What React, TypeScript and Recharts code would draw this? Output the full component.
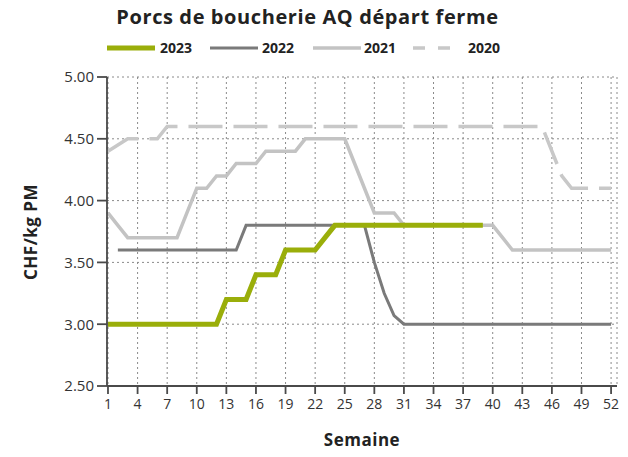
import { LineChart, Line, XAxis, YAxis, CartesianGrid } from 'recharts'

if (typeof document !== 'undefined') document.body.style.margin = '0'

const WEEKS = [
  1, 2, 3, 4, 5, 6, 7, 8, 9, 10, 11, 12, 13, 14, 15, 16, 17, 18, 19, 20, 21, 22, 23, 24, 25, 26,
  27, 28, 29, 30, 31, 32, 33, 34, 35, 36, 37, 38, 39, 40, 41, 42, 43, 44, 45, 46, 47, 48, 49, 50, 51, 52,
]

const Y2023 = [
  3.0, 3.0, 3.0, 3.0, 3.0, 3.0, 3.0, 3.0, 3.0, 3.0, 3.0, 3.0, 3.2, 3.2, 3.2, 3.4, 3.4, 3.4, 3.6, 3.6, 3.6, 3.6, 3.7, 3.8, 3.8, 3.8,
  3.8, 3.8, 3.8, 3.8, 3.8, 3.8, 3.8, 3.8, 3.8, 3.8, 3.8, 3.8, 3.8, null, null, null, null, null, null, null, null, null, null, null, null, null,
]

const Y2022 = [
  null, 3.6, 3.6, 3.6, 3.6, 3.6, 3.6, 3.6, 3.6, 3.6, 3.6, 3.6, 3.6, 3.6, 3.8, 3.8, 3.8, 3.8, 3.8, 3.8, 3.8, 3.8, 3.8, 3.8, 3.8, 3.8,
  3.8, 3.5, 3.25, 3.07, 3.0, 3.0, 3.0, 3.0, 3.0, 3.0, 3.0, 3.0, 3.0, 3.0, 3.0, 3.0, 3.0, 3.0, 3.0, 3.0, 3.0, 3.0, 3.0, 3.0, 3.0, 3.0,
]

const Y2021 = [
  3.9, 3.8, 3.7, 3.7, 3.7, 3.7, 3.7, 3.7, 3.9, 4.1, 4.1, 4.2, 4.2, 4.3, 4.3, 4.3, 4.4, 4.4, 4.4, 4.4, 4.5, 4.5, 4.5, 4.5, 4.5, 4.3,
  4.1, 3.9, 3.9, 3.9, 3.8, 3.8, 3.8, 3.8, 3.8, 3.8, 3.8, 3.8, 3.8, 3.8, 3.7, 3.6, 3.6, 3.6, 3.6, 3.6, 3.6, 3.6, 3.6, 3.6, 3.6, 3.6,
]

const Y2020 = [
  4.4, 4.45, 4.5, 4.5, 4.5, 4.5, 4.6, 4.6, 4.6, 4.6, 4.6, 4.6, 4.6, 4.6, 4.6, 4.6, 4.6, 4.6, 4.6, 4.6, 4.6, 4.6, 4.6, 4.6, 4.6, 4.6,
  4.6, 4.6, 4.6, 4.6, 4.6, 4.6, 4.6, 4.6, 4.6, 4.6, 4.6, 4.6, 4.6, 4.6, 4.6, 4.6, 4.6, 4.6, 4.6, 4.4, 4.2, 4.1, 4.1, 4.1, 4.1, 4.1,
]

const X_TICKS = [1, 4, 7, 10, 13, 16, 19, 22, 25, 28, 31, 34, 37, 40, 43, 46, 49, 52]
const Y_TICKS = [2.5, 3.0, 3.5, 4.0, 4.5, 5.0]

// legend placement: left of line, left of text
const SERIES = [
  { key: 'y2023', label: '2023', color: '#9aae0a', width: 5, dash: undefined, lx: 107, tx: 160 },
  { key: 'y2022', label: '2022', color: '#7a7a7a', width: 3, dash: undefined, lx: 210, tx: 262 },
  { key: 'y2021', label: '2021', color: '#c3c3c3', width: 3.5, dash: undefined, lx: 313, tx: 364 },
  { key: 'y2020', label: '2020', color: '#c8c8c8', width: 3.5, dash: '34 11', lx: 413, tx: 468 },
]

const data = WEEKS.map((w, i) => ({
  week: w,
  y2023: Y2023[i],
  y2022: Y2022[i],
  y2021: Y2021[i],
  y2020: Y2020[i],
}))

const FONT = '"Open Sans", "DejaVu Sans", sans-serif'
const AXIS = '#4a4a4a'

export default function App() {
  return (
    <div style={{ position: 'relative', width: 628, height: 457, background: '#fff', fontFamily: FONT }}>
      <div
        style={{
          position: 'absolute',
          top: 3,
          left: 112,
          width: 391,
          textAlign: 'center',
          fontSize: 20,
          fontWeight: 700,
          letterSpacing: 0.6,
          color: '#222',
          whiteSpace: 'nowrap',
        }}
      >
        Porcs de boucherie AQ départ ferme
      </div>
      {SERIES.map((s) => (
        <div key={s.key}>
          <svg width={48} height={10} style={{ position: 'absolute', left: s.lx, top: 43 }}>
            <line
              x1={0}
              y1={5}
              x2={s.dash ? 37 : 48}
              y2={5}
              stroke={s.color}
              strokeWidth={s.width}
              strokeDasharray={s.dash ? '12 13' : undefined}
            />
          </svg>
          <span
            style={{
              position: 'absolute',
              left: s.tx,
              top: 38,
              fontSize: 14,
              fontWeight: 700,
              color: '#222',
            }}
          >
            {s.label}
          </span>
        </div>
      ))}
      <div
        style={{
          position: 'absolute',
          left: 30,
          top: 232,
          transform: 'translate(-50%, -50%) rotate(-90deg)',
          fontSize: 17,
          fontWeight: 700,
          letterSpacing: 0.5,
          color: '#222',
          whiteSpace: 'nowrap',
        }}
      >
        CHF/kg PM
      </div>
      <div
        style={{
          position: 'absolute',
          top: 428,
          left: 107,
          width: 510,
          textAlign: 'center',
          fontSize: 17,
          fontWeight: 700,
          letterSpacing: 0.5,
          color: '#222',
        }}
      >
        Semaine
      </div>
      <div style={{ position: 'absolute', top: 0, left: 0 }}>
        <LineChart width={628} height={457} data={data} margin={{ top: 77, right: 11, bottom: 0, left: 0 }}>
          <CartesianGrid stroke="#8a8a8a" strokeDasharray="2 3" />
          <XAxis
            dataKey="week"
            type="number"
            domain={[0.9, 52.6]}
            ticks={X_TICKS}
            interval={0}
            height={71}
            tickSize={8}
            tickMargin={5}
            stroke={AXIS}
            strokeWidth={1.8}
            tick={{ fill: '#333', fontSize: 14, fontFamily: FONT }}
          />
          <XAxis xAxisId="top" orientation="top" type="number" domain={[0.9, 52.6]} height={0} tick={false} tickLine={false} stroke={AXIS} strokeWidth={1.8} />
          <YAxis
            type="number"
            domain={[2.5, 5]}
            ticks={Y_TICKS}
            width={107}
            tickSize={10}
            tickMargin={3}
            stroke={AXIS}
            strokeWidth={1.8}
            tickFormatter={(v: number) => v.toFixed(2)}
            tick={{ fill: '#333', fontSize: 15, fontFamily: FONT }}
          />
          <YAxis yAxisId="right" orientation="right" domain={[2.5, 5]} width={0} tick={false} tickLine={false} stroke={AXIS} strokeWidth={1.8} />
          {SERIES.slice()
            .reverse()
            .map((s) => (
              <Line
                key={s.key}
                dataKey={s.key}
                stroke={s.color}
                strokeWidth={s.width}
                strokeDasharray={s.dash}
                dot={false}
                type="linear"
                connectNulls={false}
                isAnimationActive={false}
              />
            ))}
        </LineChart>
      </div>
    </div>
  )
}
